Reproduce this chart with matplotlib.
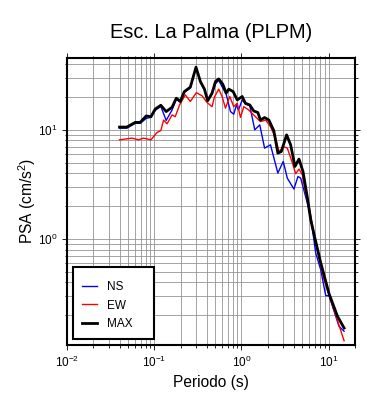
import numpy as np
import matplotlib
matplotlib.use('Agg')
import matplotlib.pyplot as plt
from matplotlib.patches import Rectangle

plt.rcParams['font.family'] = ['Liberation Sans', 'DejaVu Sans']
plt.rcParams['mathtext.fontset'] = 'custom'
plt.rcParams['mathtext.rm'] = 'Liberation Sans'

# Espectros de respuesta (periodo en s, PSA en cm/s2)
ns_periodo = [0.04, 0.0485, 0.0605, 0.069, 0.0809, 0.0917, 0.1026, 0.119, 0.137, 0.160,
              0.179, 0.199, 0.221, 0.259, 0.301, 0.338, 0.376, 0.410, 0.460, 0.503,
              0.548, 0.610, 0.667, 0.748, 0.815, 0.876, 0.924, 1.019, 1.11, 1.245,
              1.42, 1.62, 1.84, 2.15, 2.61, 3.01, 3.35, 3.99, 4.44, 4.77,
              5.69, 6.21, 7.09, 8.09, 9.24, 10.08, 13.1, 15.0]
ns_psa = [10.36, 10.36, 11.47, 11.47, 12.74, 13.0, 15.1, 16.4, 12.2, 15.2,
          19.2, 17.9, 22.0, 24.2, 37.5, 27.5, 23.2, 18.4, 21.3, 26.4,
          28.4, 24.2, 21.3, 14.7, 13.9, 16.9, 15.2, 18.8, 17.3, 16.6,
          10.0, 11.1, 6.8, 7.29, 4.02, 5.13, 3.61, 2.87, 3.74, 3.61,
          2.13, 1.61, 0.745, 0.524, 0.303, 0.303, 0.159, 0.143]

ew_periodo = [0.04, 0.0555, 0.066, 0.0754, 0.0917, 0.1074, 0.119, 0.128, 0.140, 0.160,
              0.174, 0.195, 0.227, 0.259, 0.304, 0.353, 0.403, 0.460, 0.489, 0.548,
              0.600, 0.655, 0.734, 0.815, 0.893, 0.974, 1.063, 1.21, 1.38, 1.65,
              1.89, 2.15, 2.46, 2.69, 3.06, 3.35, 3.83, 4.18, 4.56, 4.99,
              5.34, 5.94, 7.09, 8.83, 10.5, 15.0]
ew_psa = [8.1, 8.4, 8.1, 8.4, 8.1, 9.45, 9.85, 12.3, 11.35, 13.7,
          13.2, 16.9, 20.9, 18.2, 21.9, 20.5, 17.8, 16.3, 19.9, 23.6,
          20.2, 15.8, 20.2, 16.3, 17.5, 13.0, 16.3, 15.2, 13.7, 11.9,
          12.3, 10.7, 8.4, 6.33, 7.0, 6.8, 5.0, 3.96, 4.37, 3.87,
          2.82, 2.02, 0.92, 0.425, 0.279, 0.117]

max_periodo = [0.04, 0.0485, 0.0605, 0.069, 0.0809, 0.0917, 0.1026, 0.119, 0.137, 0.160,
               0.179, 0.199, 0.221, 0.259, 0.301, 0.338, 0.376, 0.410, 0.460, 0.503,
               0.548, 0.610, 0.667, 0.715, 0.803, 0.893, 1.019, 1.11, 1.245, 1.38,
               1.54, 1.65, 1.84, 2.06, 2.35, 2.61, 2.86, 3.29, 3.66, 4.10,
               4.56, 5.07, 5.69, 6.21, 7.01, 8.09, 10.08, 12.6, 15.0]
max_psa = [10.6, 10.6, 11.7, 11.7, 13.4, 13.2, 15.5, 16.8, 14.7, 16.1,
           19.5, 18.2, 22.4, 24.6, 37.5, 27.7, 23.6, 18.5, 21.7, 27.7,
           29.3, 26.2, 21.7, 23.6, 22.4, 18.8, 20.2, 17.5, 16.9, 14.9,
           14.4, 12.3, 12.96, 12.3, 9.8, 6.12, 6.33, 9.0, 7.29, 4.62,
           5.40, 4.15, 2.39, 1.50, 0.986, 0.607, 0.316, 0.196, 0.153]

fig = plt.figure(figsize=(3.9, 4.0), dpi=100)
ax = fig.add_axes([67 / 390, 55 / 400, 288 / 390, 287 / 400])

ax.plot(ns_periodo, ns_psa, color='#0000ff', lw=1.0, label='NS', zorder=3)
ax.plot(ew_periodo, ew_psa, color='#ff0000', lw=1.0, label='EW', zorder=3)
ax.plot(max_periodo, max_psa, color='black', lw=2.0, label='MAX', zorder=4)

ax.set_xscale('log')
ax.set_yscale('log')
ax.set_xlim(0.01, 20)
ax.set_ylim(0.107, 45.5)

ax.grid(True, which='both', color='#8c8c8c', lw=0.55)
ax.set_axisbelow(True)
for s in ax.spines.values():
    s.set_linewidth(1.5)
ax.tick_params(which='both', direction='out', top=True, right=True, width=0.6,
               labelsize=8.5, colors='black')
ax.tick_params(which='major', length=3.6, pad=3.5)
ax.tick_params(which='minor', length=1.8)

# caja de la leyenda
caja = Rectangle((0.0208, 0.0226), 0.281, 0.2504, transform=ax.transAxes,
                 facecolor='white', edgecolor='black', lw=1.5, zorder=5)
ax.add_patch(caja)
leg = ax.legend(loc='upper left', bbox_to_anchor=(0.001, 0.273), frameon=False,
                fontsize=8.5, handlelength=1.3, handletextpad=0.8,
                labelspacing=0.52, borderpad=1.25, borderaxespad=0)
leg.set_zorder(6)

fig.text(211 / 390, 1 - 38.5 / 400, 'Esc. La Palma (PLPM)', ha='center',
         va='baseline', fontsize=14.4)
fig.text(211 / 390, 1 - 387.5 / 400, 'Periodo (s)', ha='center', va='baseline',
         fontsize=11.2)
fig.text(27 / 390, 0.497, 'PSA (cm/s$^2$)', ha='center', va='center',
         rotation=90, fontsize=11.2)

fig.savefig('out.png', dpi=100)
